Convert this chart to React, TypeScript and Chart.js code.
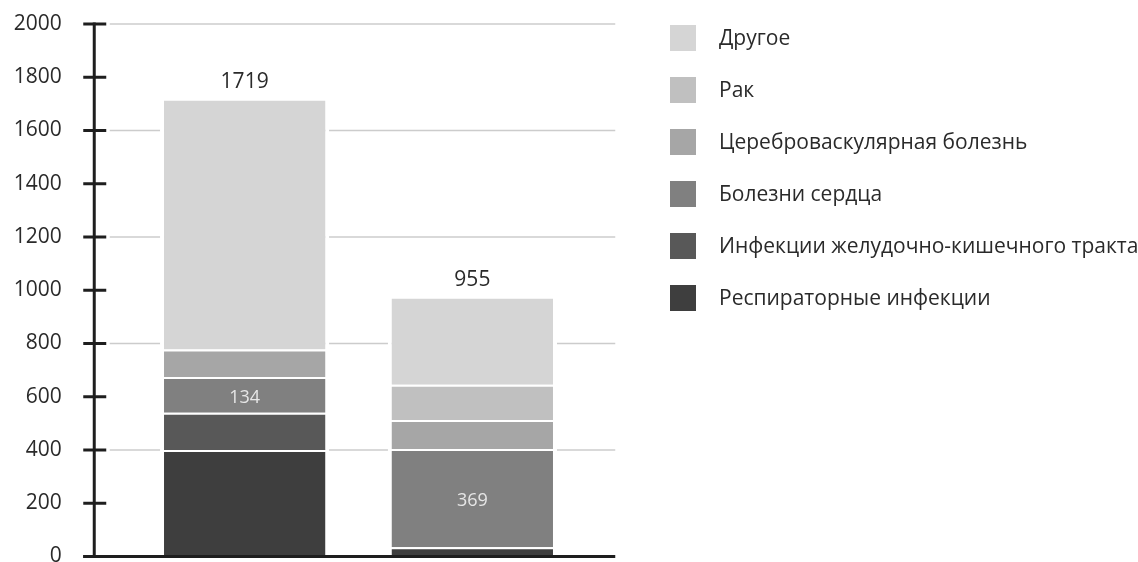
import React, { useEffect, useRef } from "react";
import { Chart, registerables } from "chart.js";

Chart.register(...registerables);

// ---- data ----
const categories = ["Группа 1", "Группа 2"];
const seriesNames = [
  "Респираторные инфекции",
  "Инфекции желудочно-кишечного тракта",
  "Болезни сердца",
  "Цереброваскулярная болезнь",
  "Рак",
  "Другое",
];
const respiratory = [400, 35];
const gastro = [140, 0];
const heart = [134, 369];
const cerebro = [103, 109];
const cancer = [0, 132];
const other = [942, 331];
const totalLabels = ["1719", "955"];
const heartLabels = ["134", "369"];
const yTicks = [0, 200, 400, 600, 800, 1000, 1200, 1400, 1600, 1800, 2000];
const gridValues = [400, 800, 1200, 1600, 2000];

const seriesColors = ["#3e3e3e", "#585858", "#808080", "#a6a6a6", "#c0c0c0", "#d5d5d5"];

const FONT = "'Open Sans', 'DejaVu Sans', sans-serif";

const decorPlugin = {
  id: "decor",
  beforeDatasetsDraw(chart: any) {
    const ctx = chart.ctx;
    const y = chart.scales.y;
    const left = chart.chartArea.left - 21;
    const right = chart.chartArea.right + 29;
    ctx.save();
    ctx.strokeStyle = "#cccccc";
    ctx.lineWidth = 1.5;
    gridValues.forEach((v) => {
      const py = y.getPixelForValue(v);
      ctx.beginPath();
      ctx.moveTo(left, py);
      ctx.lineTo(right, py);
      ctx.stroke();
    });
    ctx.restore();
  },
  afterDatasetsDraw(chart: any) {
    const ctx = chart.ctx;
    const y = chart.scales.y;
    const axisX = chart.chartArea.left - 36.5;
    const right = chart.chartArea.right + 29;
    ctx.save();
    ctx.strokeStyle = "#1e1e1e";
    ctx.lineWidth = 3;
    // vertical axis
    ctx.beginPath();
    ctx.moveTo(axisX, y.getPixelForValue(yTicks[yTicks.length - 1]) - 1.5);
    ctx.lineTo(axisX, y.getPixelForValue(0));
    ctx.stroke();
    // tick marks crossing the axis
    yTicks.forEach((v) => {
      const py = y.getPixelForValue(v);
      ctx.beginPath();
      ctx.moveTo(axisX - 11, py);
      ctx.lineTo(axisX + 12, py);
      ctx.stroke();
    });
    // baseline
    ctx.beginPath();
    ctx.moveTo(axisX - 11, y.getPixelForValue(0));
    ctx.lineTo(right, y.getPixelForValue(0));
    ctx.stroke();

    // totals above bars
    const nDs = chart.data.datasets.length;
    const topMeta = chart.getDatasetMeta(nDs - 1);
    ctx.fillStyle = "#2a2a2a";
    ctx.font = `21px ${FONT}`;
    ctx.textAlign = "center";
    ctx.textBaseline = "middle";
    topMeta.data.forEach((el: any, i: number) => {
      let sum = 0;
      chart.data.datasets.forEach((ds: any) => (sum += ds.data[i]));
      ctx.fillText(totalLabels[i], el.x, y.getPixelForValue(sum) - 17);
    });

    // heart labels inside segments
    const heartMeta = chart.getDatasetMeta(2);
    ctx.fillStyle = "#e6e6e6";
    ctx.font = `18px ${FONT}`;
    heartMeta.data.forEach((el: any, i: number) => {
      const c = el.getCenterPoint();
      ctx.fillText(heartLabels[i], c.x, c.y + 3);
    });

    // legend (reverse order)
    const lx = 670;
    const tx = 719;
    ctx.font = `21px ${FONT}`;
    ctx.textAlign = "left";
    for (let k = 0; k < nDs; k++) {
      const di = nDs - 1 - k;
      const ds = chart.data.datasets[di];
      const top = 25 + k * 52;
      ctx.fillStyle = ds.backgroundColor;
      ctx.fillRect(lx, top, 26, 26);
      ctx.fillStyle = "#2a2a2a";
      ctx.fillText(ds.label, tx, top + 14);
    }
    ctx.restore();
  },
};

export default function App() {
  const ref = useRef<HTMLCanvasElement | null>(null);

  useEffect(() => {
    if (!ref.current) return;
    const seriesValues = [respiratory, gastro, heart, cerebro, cancer, other];
    const chart = new Chart(ref.current, {
      type: "bar",
      data: {
        labels: categories,
        datasets: seriesValues.map((vals, i) => ({
          label: seriesNames[i],
          data: vals,
          backgroundColor: seriesColors[i],
          borderColor: "#ffffff",
          borderWidth: { top: 2, left: 4, right: 4, bottom: 0 },
          borderSkipped: false,
          categoryPercentage: 1,
          barPercentage: 0.743,
        })),
      },
      options: {
        responsive: false,
        animation: false,
        layout: { padding: { top: 24, bottom: 5.5, left: 0, right: 551.75 } },
        plugins: { legend: { display: false }, tooltip: { enabled: false } },
        scales: {
          x: { display: false, stacked: true },
          y: {
            stacked: true,
            min: 0,
            max: 2000,
            afterFit: (s: any) => {
              s.width = 130.75;
              s.paddingTop = 0;
              s.paddingBottom = 0;
            },
            afterBuildTicks: (s: any) => {
              s.ticks = yTicks.map((v) => ({ value: v }));
            },
            ticks: {
              padding: 69,
              color: "#2a2a2a",
              font: { family: FONT, size: 21 },
              callback: (v: any) => String(v),
            },
            grid: { display: false, drawTicks: false },
            border: { display: false },
          },
        },
      },
      plugins: [decorPlugin],
    });
    return () => chart.destroy();
  }, []);

  return (
    <div style={{ position: "absolute", left: 0, top: 0, width: 1138, height: 562, background: "#fff" }}>
      <canvas ref={ref} width={1138} height={562} style={{ display: "block" }} />
    </div>
  );
}
